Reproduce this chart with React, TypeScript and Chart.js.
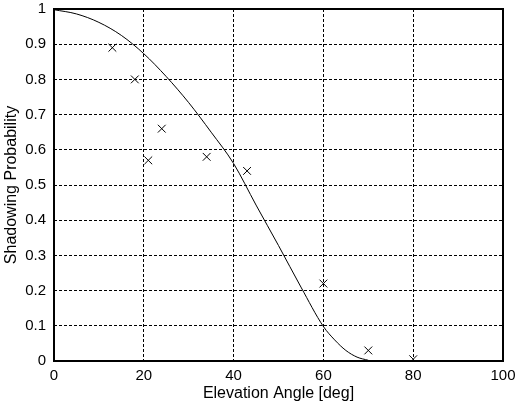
import React, { useEffect, useRef } from "react";
import { Chart, registerables } from "chart.js";

Chart.register(...registerables);

const curveAngles = [0, 5, 10, 15, 20, 25, 30, 35, 40, 45, 50, 55, 60, 62.5, 65, 67.5, 70];
const curveProb = [0.998, 0.986, 0.962, 0.925, 0.873, 0.808, 0.734, 0.65, 0.561, 0.443, 0.328, 0.21, 0.098, 0.06, 0.03, 0.011, 0.002];

const measAngles = [13, 18, 21, 24, 34, 43, 60, 70, 80];
const measProb = [0.89, 0.8, 0.57, 0.66, 0.58, 0.54, 0.22, 0.03, 0.005];

const xTitle = "Elevation Angle [deg]";
const yTitle = "Shadowing Probability";

const FONT = "'Liberation Sans', Arial, Helvetica, sans-serif";

const framePlugin = {
  id: "frame",
  afterDraw(chart: any) {
    const { ctx, chartArea } = chart;
    ctx.save();
    ctx.strokeStyle = "#000";
    ctx.lineWidth = 2;
    ctx.strokeRect(chartArea.left, chartArea.top, chartArea.right - chartArea.left, chartArea.bottom - chartArea.top);
    ctx.restore();
  },
};

export default function App() {
  const ref = useRef<HTMLCanvasElement | null>(null);
  useEffect(() => {
    if (!ref.current) return;
    const chart = new Chart(ref.current, {
      type: "scatter",
      data: {
        datasets: [
          {
            label: "model",
            data: curveAngles.map((a, i) => ({ x: a, y: curveProb[i] })),
            showLine: true,
            borderColor: "#000",
            borderWidth: 1,
            pointRadius: 0,
            cubicInterpolationMode: "monotone",
            fill: false,
          },
          {
            label: "measured",
            data: measAngles.map((a, i) => ({ x: a, y: measProb[i] })),
            showLine: false,
            pointStyle: "crossRot",
            pointRadius: 5.5,
            borderColor: "#000",
            borderWidth: 1,
          },
        ],
      },
      options: {
        responsive: false,
        animation: false,
        layout: { padding: { left: 2, top: 9, right: 14, bottom: 6 } },
        plugins: { legend: { display: false }, tooltip: { enabled: false } },
        scales: {
          x: {
            type: "linear",
            min: 0,
            max: 100,
            ticks: { stepSize: 20, color: "#000", font: { family: FONT, size: 15 }, padding: 6 },
            grid: { color: "#000", lineWidth: 1, drawTicks: false },
            border: { display: false, dash: [3, 2] },
            title: { display: true, text: xTitle, color: "#000", font: { family: FONT, size: 16 }, padding: 0 },
            afterFit: (s: any) => {
              s.height = 42;
              s.paddingLeft = 0;
              s.paddingRight = 0;
            },
          },
          y: {
            type: "linear",
            min: 0,
            max: 1,
            ticks: {
              stepSize: 0.1,
              color: "#000",
              font: { family: FONT, size: 15 },
              padding: 8,
              callback: (v: any) => String(Math.round(v * 10) / 10),
            },
            grid: { color: "#000", lineWidth: 1, drawTicks: false },
            border: { display: false, dash: [3, 2] },
            title: { display: true, text: yTitle, color: "#000", font: { family: FONT, size: 16 }, padding: 0 },
            afterFit: (s: any) => {
              s.width = 52;
              s.paddingTop = 0;
              s.paddingBottom = 0;
            },
          },
        },
      },
      plugins: [framePlugin],
    });
    return () => chart.destroy();
  }, []);
  return (
    <div style={{ position: "fixed", left: 0, top: 0, width: 517, height: 409, background: "#fff" }}>
      <canvas ref={ref} width={517} height={409} />
    </div>
  );
}
